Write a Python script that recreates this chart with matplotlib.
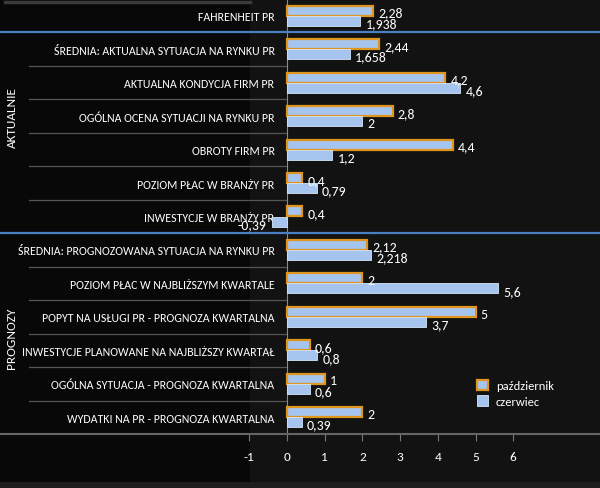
import matplotlib.pyplot as plt
import numpy as np
from matplotlib.patches import Patch, Rectangle
from matplotlib.lines import Line2D

plt.rcParams['font.family'] = ['Carlito', 'DejaVu Sans']

categories = ['FAHRENHEIT PR',
              'ŚREDNIA: AKTUALNA SYTUACJA NA RYNKU PR',
              'AKTUALNA KONDYCJA FIRM PR',
              'OGÓLNA OCENA SYTUACJI NA RYNKU PR',
              'OBROTY FIRM PR',
              'POZIOM PŁAC W BRANŻY PR',
              'INWESTYCJE W BRANŻY PR',
              'ŚREDNIA: PROGNOZOWANA SYTUACJA NA RYNKU PR',
              'POZIOM PŁAC W NAJBLIŻSZYM KWARTALE',
              'POPYT NA USŁUGI PR - PROGNOZA KWARTALNA',
              'INWESTYCJE PLANOWANE NA NAJBLIŻSZY KWARTAŁ',
              'OGÓLNA SYTUACJA - PROGNOZA KWARTALNA',
              'WYDATKI NA PR - PROGNOZA KWARTALNA']
pazdziernik = [2.28, 2.44, 4.2, 2.8, 4.4, 0.4, 0.4, 2.12, 2, 5, 0.6, 1, 2]
czerwiec = [1.938, 1.658, 4.6, 2, 1.2, 0.79, -0.39, 2.218, 5.6, 3.7, 0.8, 0.6, 0.39]
groups = ['AKTUALNIE', 'PROGNOZY']
xticks = [-1, 0, 1, 2, 3, 4, 5, 6]

bg = '#0d0d0d'
fill = '#a6c5ee'
orange = '#e0951e'
W, H = 600, 489

fig = plt.figure(figsize=(6, 4.89), dpi=100, facecolor=bg)
# slightly darker left panel
fig.add_artist(Rectangle((0, 0), 250 / W, 1, transform=fig.transFigure,
                         facecolor='#080808', edgecolor='none', zorder=-2))
fig.add_artist(Rectangle((250 / W, 0), 1, 1, transform=fig.transFigure,
                         facecolor='#121212', edgecolor='none', zorder=-2))
fig.add_artist(Line2D([5 / W, 250 / W], [1 - 3 / H, 1 - 3 / H], color='#3a3a3a',
                      lw=2.5, transform=fig.transFigure, zorder=-1))
fig.add_artist(Rectangle((0, 0), 1, 6 / H, transform=fig.transFigure,
                         facecolor='#1e1e1e', edgecolor='none', zorder=-1))

ax = fig.add_axes([0, 1 - 435 / H, 1, 435 / H])
ax.set_facecolor('none')
ax.spines['left'].set_position(('data', 0))

y = np.arange(len(categories))
h = 0.3
ax.barh(y - h / 2, pazdziernik, height=h, color=fill, edgecolor=orange, linewidth=1.6,
        label='październik', zorder=3)
ax.barh(y + h / 2, czerwiec, height=h, color=fill, edgecolor='#d7e6f8', linewidth=0.6,
        label='czerwiec', zorder=3)

ppu = 37.7
ax.set_xlim(-287 / ppu, (W - 287) / ppu)
ax.set_ylim(len(categories) - 0.5, -0.5)


def fmt(v):
    return f'{v:g}'.replace('.', ',')


for i in range(len(categories)):
    for v, yy in ((pazdziernik[i], y[i] - h / 2 + 0.05), (czerwiec[i], y[i] + h / 2 + 0.07)):
        if v >= 0:
            ax.text(v + 0.14, yy, fmt(v), color='white', fontsize=10, va='center',
                    ha='left', zorder=5)
        else:
            ax.text(v - 0.16, yy, fmt(v), color='white', fontsize=10, va='center',
                    ha='right', zorder=5)

ax.set_yticks(y)
ax.set_yticklabels(categories, color='white', fontsize=8.6)
ax.tick_params(axis='y', length=0, pad=9, labelcolor='white')
ax.spines['left'].set_color('#8a8a8a')
ax.spines['left'].set_linewidth(0.8)
ax.spines['bottom'].set_color('#666666')
ax.spines['bottom'].set_linewidth(1.5)
ax.spines['top'].set_visible(False)
ax.spines['right'].set_visible(False)

ax.set_xticks(xticks)
ax.set_xticklabels([str(t) for t in xticks], fontsize=9.5)
ax.tick_params(axis='x', colors='#777777', labelcolor='white', length=5, width=0.8, pad=7)

# separators in category area
x_sep = [29 / ppu - 287 / ppu, 0]
for k in list(range(1, 6)) + list(range(7, 12)):
    ax.plot(x_sep, [k + 0.5, k + 0.5], color='#555555', lw=0.9, zorder=2)
for k in (0, 6):
    ax.axhline(k + 0.5, color='#4a7fc1', lw=1.6, zorder=4)

# group labels
fig.text(12 / W, 1 - 118 / H, groups[0], rotation=90, color='white', fontsize=9.5,
         ha='center', va='center')
fig.text(12 / W, 1 - 338 / H, groups[1], rotation=90, color='white', fontsize=9.5,
         ha='center', va='center')

handles = [Patch(facecolor=fill, edgecolor=orange, linewidth=1.6),
           Patch(facecolor=fill, edgecolor='#d7e6f8', linewidth=0.6)]
leg = fig.legend(handles, ['październik', 'czerwiec'], loc='upper left',
                 bbox_to_anchor=(477 / W, 1 - 381 / H), frameon=False, fontsize=9,
                 handlelength=0.9, handleheight=0.9, handletextpad=0.6,
                 labelspacing=0.3, borderaxespad=0, borderpad=0)
for t in leg.get_texts():
    t.set_color('white')

fig.savefig('out.png', dpi=100, facecolor=bg)
